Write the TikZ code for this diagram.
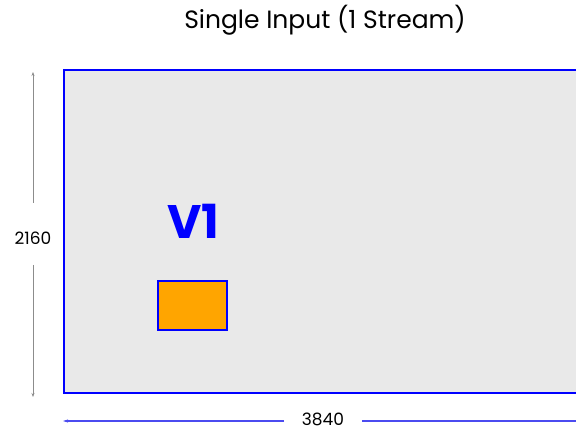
\documentclass[tikz,border=0pt]{standalone}
\usepackage{fontspec}
\setmainfont{Poppins}
\usetikzlibrary{arrows.meta}
\definecolor{bgrey}{HTML}{E9E9E9}
\definecolor{orng}{HTML}{FFA500}
\definecolor{dimblue}{HTML}{4B4BF0}
\definecolor{dimgrey}{HTML}{8C8C8C}
\tikzset{
  frame/.style={draw=blue, line width=1.6pt, fill=bgrey},
  vbox/.style={draw=blue, line width=1.2pt, fill=orng},
  dimlab/.style={font=\fontsize{17}{20}\selectfont, text=black, inner sep=0pt},
  dimv/.style={draw=dimgrey, line width=0.9pt, -{Stealth[length=4pt,width=3pt]}},
  dimh/.style={draw=dimblue, line width=1pt},
}
\begin{document}
\begin{tikzpicture}[x=1pt,y=-1pt]
\useasboundingbox (0,0) rectangle (576,430);
\clip (0,0) rectangle (576,430);
\fill[white] (0,0) rectangle (576,430);
\node[font=\fontsize{25}{30}\selectfont, inner sep=0pt] (title) at (325,20) {Single Input (1 Stream)};
\draw[frame] (64,70) rectangle (600,393);
\node[font=\fontsize{47}{54}\selectfont\bfseries, text=blue, inner sep=0pt] (v1) at (193,221) {V1};
\node[vbox, minimum width=69pt, minimum height=49pt, inner sep=0pt] (box) at (192.5,305.5) {};
% vertical dimension
\node[dimlab] (h) at (33,238) {2160};
\coordinate (vt) at (33,72);
\coordinate (vb) at (33,397);
\draw[dimv] (33,203) -- (vt);
\draw[dimv] (33,265) -- (vb);
% horizontal dimension
\node[dimlab] (w) at (323,419) {3840};
\coordinate (hl) at (63,421);
\coordinate (hr) at (600,421);
\draw[dimh, -{Stealth[length=5pt,width=3pt]}] (284,421) -- (hl);
\draw[dimh] (362,421) -- (hr);
\end{tikzpicture}
\end{document}
